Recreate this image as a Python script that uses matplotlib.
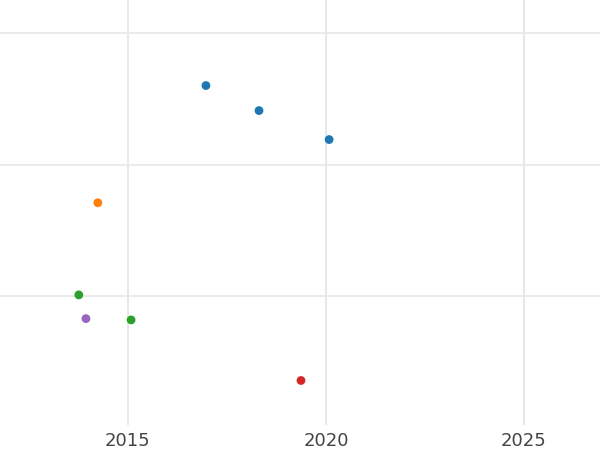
import matplotlib
matplotlib.use("Agg")
import matplotlib.pyplot as plt

years = [2016.97, 2018.31, 2020.08, 2014.24, 2013.76, 2015.08, 2013.94, 2019.37]
values = [2.60, 2.41, 2.19, 1.71, 1.01, 0.82, 0.83, 0.36]
colors = ["#1f77b4", "#1f77b4", "#1f77b4", "#ff7f0e", "#2ca02c", "#2ca02c", "#9467bd", "#d62728"]
xticks = [2015, 2020, 2025]
yticks = [1, 2, 3]

fig = plt.figure(figsize=(6, 4.5), dpi=100)
ax = fig.add_axes([0, 0.055, 1, 0.945])
ax.scatter(years, values, c=colors, s=40, zorder=3, edgecolors="none")
ax.set_xlim(2011.77, 2026.92)
ax.set_ylim(0.02, 3.25)
ax.set_xticks(xticks)
ax.set_xticklabels([str(t) for t in xticks])
ax.set_yticks(yticks)
ax.set_yticklabels([])
ax.grid(True, axis="x", color="#e8e8e8", linewidth=1.5)
ax.grid(True, axis="y", color="#e8e8e8", linewidth=1.2)
ax.set_axisbelow(True)
for s in ax.spines.values():
    s.set_visible(False)
ax.tick_params(length=0, labelsize=13, labelcolor="#444444", pad=5)
fig.savefig("out.png", dpi=100)
